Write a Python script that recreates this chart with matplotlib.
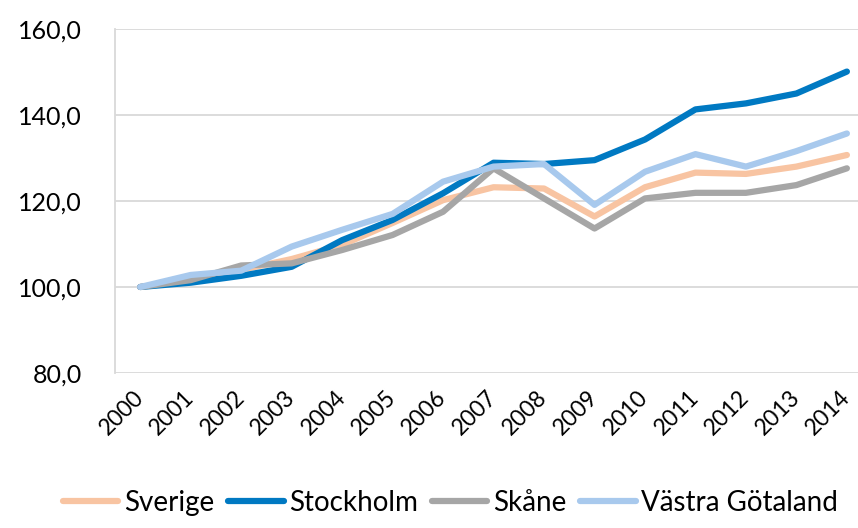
import matplotlib.pyplot as plt
import numpy as np

plt.rcParams['font.family'] = ['Lato', 'DejaVu Sans']

years = [str(y) for y in range(2000, 2015)]
sverige = [100.0, 101.5, 104.0, 106.5, 109.8, 114.9, 120.2, 123.2, 122.9, 116.4, 123.2, 126.6, 126.3, 128.0, 130.7]
stockholm = [100.0, 101.0, 102.6, 104.7, 110.9, 115.6, 121.8, 128.9, 128.6, 129.5, 134.3, 141.3, 142.7, 145.0, 150.1]
skane = [100.0, 101.6, 105.0, 105.5, 108.6, 112.1, 117.5, 127.6, 120.6, 113.6, 120.6, 121.9, 121.9, 123.7, 127.6]
vastra = [100.0, 102.8, 103.8, 109.4, 113.3, 117.0, 124.5, 128.0, 128.6, 119.1, 126.8, 130.9, 128.0, 131.6, 135.7]

series = [
    ('Sverige', sverige, '#F8C4A2'),
    ('Stockholm', stockholm, '#0079C2'),
    ('Skåne', skane, '#A6A6A6'),
    ('Västra Götaland', vastra, '#A8C9ED'),
]

fig = plt.figure(figsize=(8.58, 5.28), dpi=100)
ax = fig.add_axes([115 / 858, 1 - 373 / 528, 1 - 115 / 858, (373 - 29) / 528])

x = np.arange(len(years))
for name, vals, col in series:
    ax.plot(x, vals, color=col, linewidth=4.5, solid_capstyle='round',
            solid_joinstyle='round', label=name)

ax.set_ylim(80, 160)
ax.set_yticks(np.arange(80, 161, 20))
ax.set_yticklabels([f'{v:.1f}'.replace('.', ',') for v in np.arange(80, 161, 20)])
ax.set_xlim(-0.5, 14.22)
ax.set_xticks(x)
ax.set_xticklabels(years, rotation=45, ha='right', va='center', rotation_mode='anchor')

ax.grid(axis='y', color='#D9D9D9', linewidth=1.3)
ax.set_axisbelow(True)
for s in ['top', 'right', 'bottom']:
    ax.spines[s].set_visible(False)
ax.spines['left'].set_color('#D9D9D9')
ax.spines['left'].set_linewidth(1.3)
ax.tick_params(axis='y', length=0, labelsize=18, labelcolor='#000000', pad=24)
ax.tick_params(axis='x', length=0, labelsize=16.5, labelcolor='#000000', pad=15)

fig.legend(loc='lower center', bbox_to_anchor=(0.525, -0.025), ncol=4, frameon=False,
           fontsize=20, handlelength=2.0, handletextpad=0.2, columnspacing=0.5)

fig.savefig('out.png', dpi=100)
